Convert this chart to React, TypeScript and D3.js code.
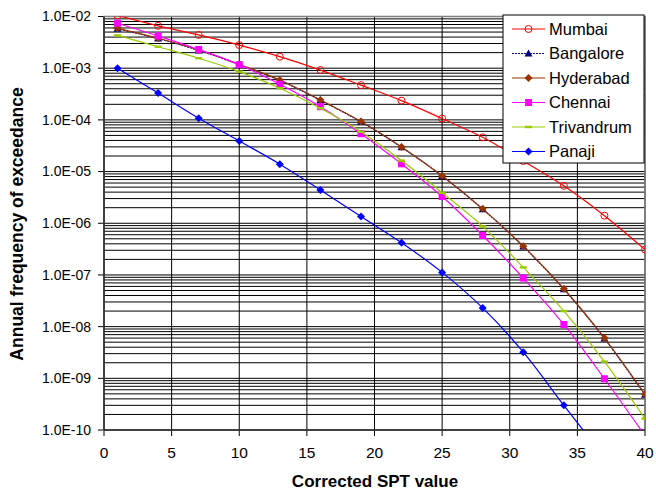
import React, { useMemo } from "react";
import * as d3 from "d3";

// SPT values (x) and annual frequency of exceedance per city
const spt = [1, 4, 7, 10, 13, 16, 19, 22, 25, 28, 31, 34, 37, 40];
const mumbai = [1.05e-2, 6.6e-3, 4.4e-3, 2.8e-3, 1.67e-3, 9.2e-4, 4.7e-4, 2.36e-4, 1.06e-4, 4.6e-5, 1.6e-5, 5.3e-6, 1.4e-6, 3.1e-7];
const bangalore = [5.8e-3, 3.74e-3, 2.21e-3, 1.17e-3, 5.8e-4, 2.39e-4, 9.15e-5, 2.95e-5, 8.2e-6, 1.87e-6, 3.55e-7, 5.3e-8, 5.9e-9, 4.8e-10];
const hyderabad = [5.9e-3, 3.8e-3, 2.25e-3, 1.19e-3, 5.9e-4, 2.43e-4, 9.3e-5, 3.0e-5, 8.3e-6, 1.9e-6, 3.6e-7, 5.4e-8, 6.0e-9, 4.9e-10];
const chennai = [7.4e-3, 4.2e-3, 2.3e-3, 1.17e-3, 4.9e-4, 1.8e-4, 5.4e-5, 1.41e-5, 3.3e-6, 5.8e-7, 8.7e-8, 1.1e-8, 9.8e-10, 7.8e-11];
const trivandrum = [4.3e-3, 2.6e-3, 1.56e-3, 8.6e-4, 4.1e-4, 1.68e-4, 5.9e-5, 1.63e-5, 3.9e-6, 8.7e-7, 1.4e-7, 2.0e-8, 2.1e-9, 1.66e-10];
const panaji = [1.0e-3, 3.3e-4, 1.08e-4, 3.9e-5, 1.39e-5, 4.4e-6, 1.35e-6, 4.2e-7, 1.12e-7, 2.3e-8, 3.2e-9, 3.0e-10, 3.0e-11];

const xTicks = [0, 5, 10, 15, 20, 25, 30, 35, 40];
const yDecades = [-2, -3, -4, -5, -6, -7, -8, -9, -10];

const series = [
  { name: "Mumbai", values: mumbai, color: "#ff0000", marker: "circle", dash: null },
  { name: "Bangalore", values: bangalore, color: "#000080", marker: "triangle", dash: "2,1" },
  { name: "Hyderabad", values: hyderabad, color: "#993300", marker: "diamond", dash: null },
  { name: "Chennai", values: chennai, color: "#ff00ff", marker: "square", dash: null },
  { name: "Trivandrum", values: trivandrum, color: "#99cc00", marker: "dash", dash: null },
  { name: "Panaji", values: panaji, color: "#0000ff", marker: "diamond", dash: null },
];

const FONT = "'Liberation Sans', Arial, sans-serif";

function Marker({ type, x, y, color }: { type: string; x: number; y: number; color: string }) {
  if (type === "circle")
    return <circle cx={x} cy={y} r={3.5} fill="none" stroke={color} strokeWidth={1} />;
  if (type === "square")
    return <rect x={x - 3.5} y={y - 3.5} width={7} height={7} fill={color} />;
  if (type === "triangle")
    return <path d={`M${x},${y - 4}L${x + 4},${y + 3}L${x - 4},${y + 3}Z`} fill={color} />;
  if (type === "diamond")
    return <path d={`M${x},${y - 4}L${x + 4},${y}L${x},${y + 4}L${x - 4},${y}Z`} fill={color} />;
  return <rect x={x - 3.5} y={y - 1.2} width={7} height={2.4} fill={color} />;
}

export default function App() {
  const width = 656;
  const height = 492;
  const left = 104;
  const right = 645;
  const top = 16.5;
  const bottom = 430;

  const x = useMemo(() => d3.scaleLinear().domain([0, 40]).range([left, right]), []);
  const y = useMemo(() => d3.scaleLog().domain([1e-10, 1e-2]).range([bottom, top]), []);

  const line = d3
    .line<[number, number]>()
    .x((d) => x(d[0]))
    .y((d) => y(d[1]))
    .curve(d3.curveCatmullRom.alpha(0.5));

  const minorGrid: number[] = [];
  for (let e = -10; e < -2; e++) {
    for (let m = 2; m <= 9; m++) minorGrid.push(m * Math.pow(10, e));
  }

  const fmt = (e: number) => `1.0E-${String(-e).padStart(2, "0")}`;

  const legendY = (i: number) => 29 + i * 24.5;

  return (
    <div style={{ position: "absolute", left: 0, top: 0 }}>
      <svg width={width} height={height} style={{ display: "block", fontFamily: FONT }}>
        <defs>
          <clipPath id="plot">
            <rect x={left} y={top} width={right - left} height={bottom - top} />
          </clipPath>
        </defs>
        <rect x={0} y={0} width={width} height={height} fill="#fff" />

        {/* grid */}
        {minorGrid.map((v, i) => (
          <line key={"m" + i} x1={left} x2={right} y1={y(v)} y2={y(v)} stroke="#000" strokeWidth={1} />
        ))}
        {yDecades.map((e) => (
          <line key={"d" + e} x1={left - 6} x2={right} y1={y(Math.pow(10, e))} y2={y(Math.pow(10, e))} stroke="#000" strokeWidth={1} />
        ))}
        {xTicks.map((t) => (
          <line key={"v" + t} x1={x(t)} x2={x(t)} y1={top} y2={bottom + 6} stroke="#000" strokeWidth={1} />
        ))}
        <rect x={left} y={top} width={right - left} height={bottom - top} fill="none" stroke="#808080" strokeWidth={1.5} />
        <line x1={left} x2={left} y1={top} y2={bottom} stroke="#000" />
        <line x1={left} x2={right} y1={bottom} y2={bottom} stroke="#000" />

        {/* series */}
        <g clipPath="url(#plot)">
          {series.map((s) => {
            const pts = s.values.map((v, i) => [spt[i], v] as [number, number]);
            return (
              <g key={s.name}>
                <path d={line(pts) ?? ""} fill="none" stroke={s.color} strokeWidth={1.2} strokeDasharray={s.dash ?? undefined} />
                {pts.map((p, i) => (
                  <Marker key={i} type={s.marker} x={x(p[0])} y={y(p[1])} color={s.color} />
                ))}
              </g>
            );
          })}
        </g>

        {/* axes labels */}
        {yDecades.map((e) => (
          <text key={"yl" + e} x={91} y={y(Math.pow(10, e))} dy="0.35em" textAnchor="end" fontSize={14}>
            {fmt(e)}
          </text>
        ))}
        {xTicks.map((t) => (
          <text key={"xl" + t} x={x(t)} y={453} dy="0.35em" textAnchor="middle" fontSize={15.5}>
            {t}
          </text>
        ))}
        <text x={375} y={481} dy="0.35em" textAnchor="middle" fontSize={17} fontWeight="bold">
          Corrected SPT value
        </text>
        <text transform={`translate(17,224) rotate(-90)`} dy="0.35em" textAnchor="middle" fontSize={17.5} fontWeight="bold">
          Annual frequency of exceedance
        </text>

        {/* legend */}
        <rect x={503} y={15} width={141} height={148} fill="#fff" stroke="#000" strokeWidth={1} />
        {series.map((s, i) => (
          <g key={"lg" + s.name}>
            <line x1={512} x2={545} y1={legendY(i)} y2={legendY(i)} stroke={s.color} strokeWidth={1.2} strokeDasharray={s.dash ?? undefined} />
            <Marker type={s.marker} x={528.5} y={legendY(i)} color={s.color} />
            <text x={549} y={legendY(i)} dy="0.35em" fontSize={16.5}>
              {s.name}
            </text>
          </g>
        ))}
      </svg>
    </div>
  );
}
